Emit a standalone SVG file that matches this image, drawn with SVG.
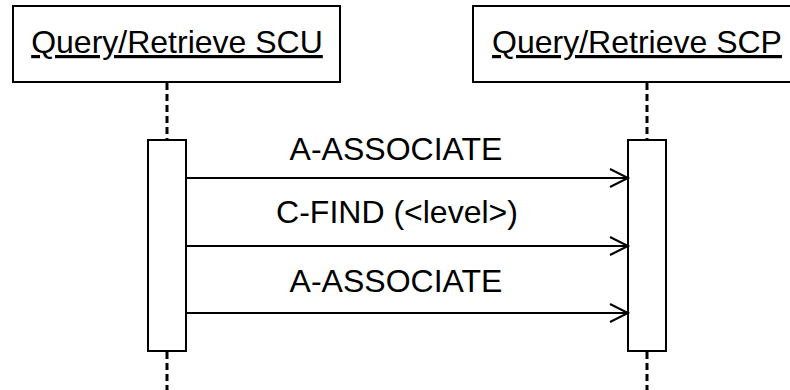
<svg xmlns="http://www.w3.org/2000/svg" width="790" height="390" viewBox="0 0 790 390">
<style>
.box{fill:#fff;stroke:#000;stroke-width:2}
.life{stroke:#000;stroke-width:3;stroke-dasharray:7 4;fill:none}
.msg{stroke:#000;stroke-width:2;fill:none}
text{font-family:"Liberation Sans",Arial,sans-serif;font-size:32px;fill:#000;text-anchor:middle}
.hd{text-decoration:underline}
</style>
<defs>
<marker id="open" markerUnits="userSpaceOnUse" markerWidth="22" markerHeight="22" refX="19" refY="10" orient="auto">
<path d="M1,1 L19,10 L1,19" fill="none" stroke="#000" stroke-width="2"/>
</marker>
</defs>
<rect width="790" height="390" fill="#fff"/>
<g id="lifelines">
<line class="life" x1="167" y1="83" x2="167" y2="140"/>
<line class="life" x1="167" y1="352" x2="167" y2="390"/>
<line class="life" x1="647" y1="83" x2="647" y2="140"/>
<line class="life" x1="647" y1="352" x2="647" y2="390"/>
</g>
<g id="scu">
<rect class="box" x="13" y="6" width="327" height="76"/>
<text class="hd" x="177" y="53">Query/Retrieve SCU</text>
</g>
<g id="scp">
<rect class="box" x="473" y="6" width="330" height="76"/>
<text class="hd" x="637" y="53">Query/Retrieve SCP</text>
</g>
<g id="scu-activation">
<rect class="box" x="148" y="140" width="38" height="211"/>
</g>
<g id="scp-activation">
<rect class="box" x="628" y="140" width="38" height="211"/>
</g>
<g id="connectors">
<line class="msg" x1="186" y1="178" x2="628" y2="178" marker-end="url(#open)"/>
<line class="msg" x1="186" y1="246" x2="628" y2="246" marker-end="url(#open)"/>
<line class="msg" x1="186" y1="313" x2="628" y2="313" marker-end="url(#open)"/>
</g>
<g id="labels">
<text x="396" y="160">A-ASSOCIATE</text>
<text x="397" y="223">C-FIND (&lt;level&gt;)</text>
<text x="396" y="292">A-ASSOCIATE</text>
</g>
</svg>
